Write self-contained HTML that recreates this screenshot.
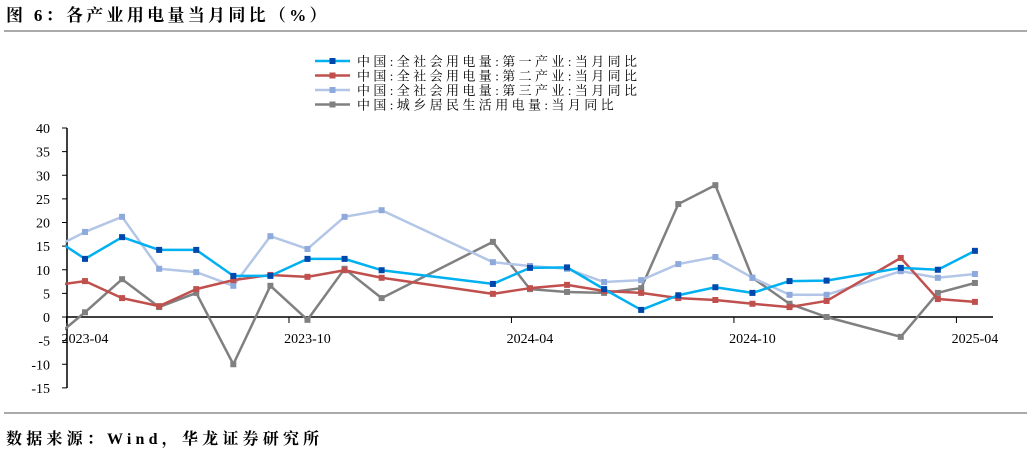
<!DOCTYPE html>
<html><head><meta charset="utf-8"><style>
body{margin:0;background:#fff;width:1031px;height:454px;overflow:hidden;font-family:"Liberation Serif","Noto Serif CJK SC",serif}
svg text{font-family:"Liberation Serif","Noto Serif CJK SC",serif}
</style></head><body>
<svg id="chart" width="1031" height="454" xmlns="http://www.w3.org/2000/svg">
<text x="6" y="21" font-size="17" font-weight="bold" fill="#000" letter-spacing="3.3">图 6：各产业用电量当月同比（%）</text>
<line x1="4" y1="31" x2="1027" y2="31" stroke="#555" stroke-width="1"/>
<line x1="4" y1="413" x2="1027" y2="413" stroke="#555" stroke-width="1"/>
<text x="6" y="444" font-size="16" font-weight="bold" fill="#000" letter-spacing="4.2">数据来源：Wind，华龙证券研究所</text>
<defs><clipPath id="plotclip"><rect x="65" y="100" width="940" height="300"/></clipPath></defs>
<g id="axes"></g>
<g id="series" clip-path="url(#plotclip)"></g>
<g id="legend"></g>
</svg>
<script>
const months=["2023-03","2023-04","2023-05","2023-06","2023-07","2023-08","2023-09","2023-10","2023-11","2023-12","2024-01","2024-02","2024-03","2024-04","2024-05","2024-06","2024-07","2024-08","2024-09","2024-10","2024-11","2024-12","2025-01","2025-02","2025-03","2025-04"];
const primary=[17.5,12.3,16.9,14.2,14.2,8.7,8.7,12.3,12.3,9.9,null,null,7.0,10.4,10.5,5.9,1.5,4.6,6.3,5.1,7.6,7.7,null,10.4,10.0,14.0];
const secondary=[6.5,7.6,4.0,2.3,5.9,7.8,8.9,8.5,9.9,8.3,null,null,4.9,6.1,6.8,5.5,5.1,4.0,3.6,2.8,2.1,3.4,null,12.5,3.8,3.2];
const tertiary=[14.0,18.0,21.2,10.2,9.5,6.6,17.1,14.4,21.2,22.6,null,null,11.6,10.8,10.2,7.4,7.8,11.2,12.7,8.3,4.7,4.7,null,9.7,8.3,9.1];
const residential=[-5.5,1.0,8.0,2.1,5.1,-10.0,6.6,-0.6,10.2,4.0,null,null,15.9,5.9,5.3,5.1,6.1,23.9,27.9,8.3,2.8,0.0,null,-4.2,5.1,7.2];
const yTicks=[40,35,30,25,20,15,10,5,0,-5,-10,-15];
const xLabels=["2023-04","2023-10","2024-04","2024-10","2025-04"];
const seriesNames=["中国:全社会用电量:第一产业:当月同比","中国:全社会用电量:第二产业:当月同比","中国:全社会用电量:第三产业:当月同比","中国:城乡居民生活用电量:当月同比"];

const NS="http://www.w3.org/2000/svg";
const y=v=>317-v*4.725;
const x=i=>85+(i-1)*37.08;
function mk(tag,attrs,parent){const e=document.createElementNS(NS,tag);for(const k in attrs)e.setAttribute(k,attrs[k]);parent.appendChild(e);return e;}
const axes=document.getElementById('axes'),ser=document.getElementById('series'),leg=document.getElementById('legend');

let a=mk('line',{x1:67,y1:128,x2:67,y2:388,stroke:'#000','stroke-width':1.5},axes);


yTicks.forEach(t=>{
 const tk=mk('line',{x1:62,y1:y(t),x2:67,y2:y(t),stroke:'#000'},axes);
 
 
 const tl=mk('text',{x:50,y:y(t)+5,'font-size':14,'text-anchor':'end',fill:'#000'},axes);
 tl.textContent=t;
 
 
});
a=mk('line',{x1:67,y1:y(0),x2:993,y2:y(0),stroke:'#000','stroke-width':1.5},axes);


xLabels.forEach(l=>{
 const i=months.indexOf(l);
 const tk=mk('line',{x1:x(i)-18.5,y1:y(0),x2:x(i)-18.5,y2:y(0)+6,stroke:'#000'},axes);
 
 
 const tl=mk('text',{x:x(i),y:343,'font-size':14,'text-anchor':'middle',fill:'#000'},axes);
 tl.textContent=l;
 
 
});
const styles=[{d:primary,c:'#00B0F0',m:'#0047AB',n:'primary-industry-line'},{d:secondary,c:'#C0504D',m:'#C0504D',n:'secondary-industry-line'},{d:tertiary,c:'#B4C6E7',m:'#8EA9DB',n:'tertiary-industry-line'},{d:residential,c:'#808080',m:'#808080',n:'residential-line'}];
[3,2,1,0].forEach(k=>{
 const s=styles[k];
 const pts=[];s.d.forEach((v,i)=>{if(v!==null)pts.push([x(i),y(v)]);});
 const p=mk('polyline',{points:pts.map(q=>q.join(',')).join(' '),fill:'none',stroke:s.c,'stroke-width':2.5,'stroke-linejoin':'round'},ser);
 
 
 pts.forEach(q=>{
  const r=mk('rect',{x:q[0]-3,y:q[1]-3,width:6,height:6,fill:s.m},ser);
  
  
 });
});
seriesNames.forEach((n,k)=>{
 const s=styles[k],ly=61+k*14.5;
 const l=mk('line',{x1:315,y1:ly,x2:350,y2:ly,stroke:s.c,'stroke-width':2.5},leg);
 
 
 const r=mk('rect',{x:329.5,y:ly-3,width:6,height:6,fill:s.m},leg);
 
 
 const t=mk('text',{x:357,y:ly+5,'font-size':13,'letter-spacing':3.4,fill:'#000'},leg);
 t.textContent=n;
 
 
});
</script>
</body></html>
